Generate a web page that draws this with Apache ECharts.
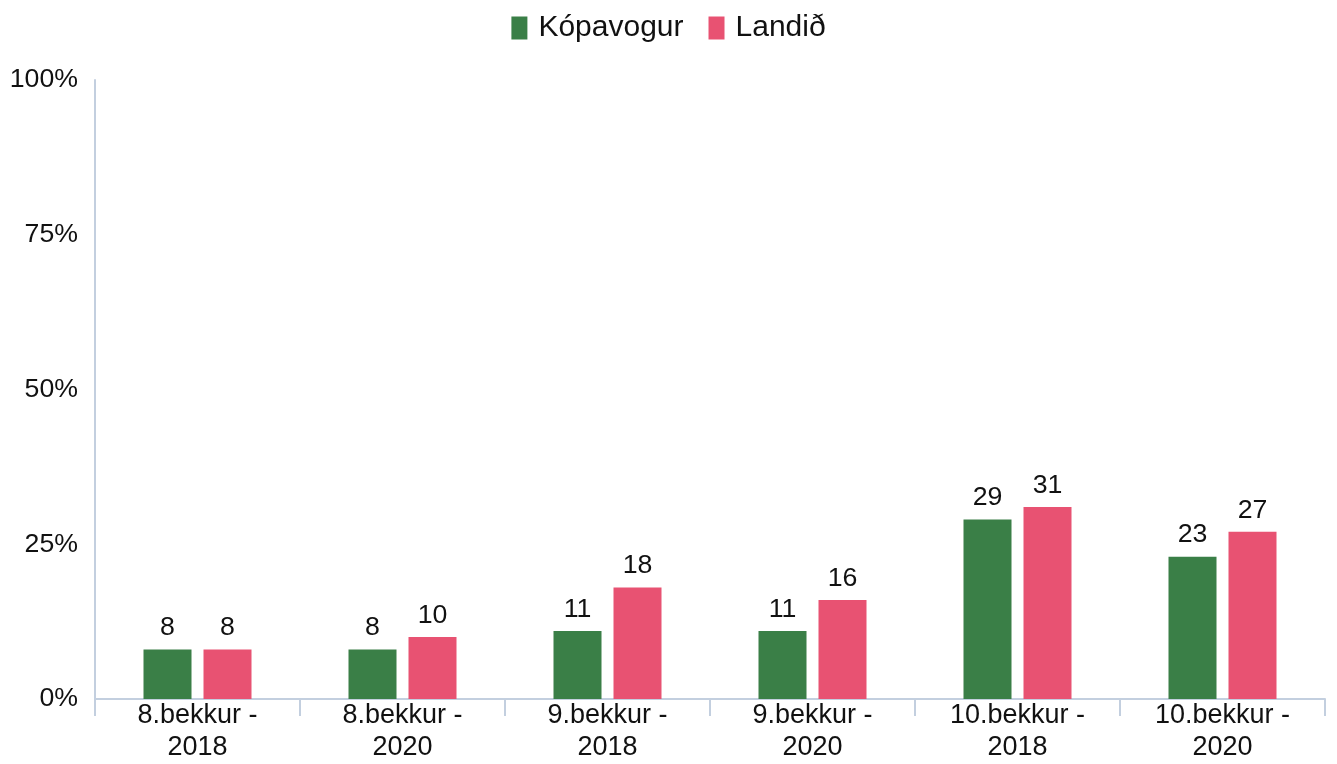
<!DOCTYPE html>
<html>
<head>
<meta charset="utf-8">
<script src="https://cdn.jsdelivr.net/npm/echarts@6/dist/echarts.min.js"></script>
<style>
  html, body { margin: 0; padding: 0; background: #fff; }
  #chart { width: 1337px; height: 764px; }
</style>
</head>
<body>
<div id="chart"></div>
<script>
const categories = [
  '8.bekkur -\n2018', '8.bekkur -\n2020',
  '9.bekkur -\n2018', '9.bekkur -\n2020',
  '10.bekkur -\n2018', '10.bekkur -\n2020'
]
const kopavogur = [8, 8, 11, 11, 29, 23]
const landid = [8, 10, 18, 16, 31, 27]

const chart = echarts.init(document.getElementById('chart'))
const font = 'Liberation Sans, Arial, sans-serif'
const axisColor = '#c3cfdf'
const textColor = '#111'

chart.setOption({
  animation: false,
  textStyle: { fontFamily: font },
  legend: {
    top: 8,
    left: 'center',
    itemWidth: 16,
    itemHeight: 23,
    itemGap: 25,
    icon: 'rect',
    textStyle: { fontSize: 30, color: textColor, fontFamily: font, padding: [0, 0, 0, 6] }
  },
  grid: { left: 95, right: 12, top: 80, bottom: 64 },
  xAxis: {
    type: 'category',
    data: categories,
    axisLine: { lineStyle: { color: axisColor, width: 2 } },
    axisTick: { show: true, length: 17, lineStyle: { color: axisColor, width: 2 } },
    axisLabel: { fontSize: 27, color: textColor, lineHeight: 32, margin: 1, fontFamily: font }
  },
  yAxis: {
    type: 'value',
    min: 0,
    max: 100,
    interval: 25,
    axisLine: { show: true, lineStyle: { color: axisColor, width: 2 } },
    axisTick: { show: false },
    splitLine: { show: false },
    axisLabel: { formatter: '{value}%', fontSize: 26.7, color: textColor, margin: 17, fontFamily: font, padding: [4, 0, 0, 0] }
  },
  series: [
    {
      name: 'Kópavogur',
      type: 'bar',
      data: kopavogur,
      barWidth: 48,
      barGap: '25%',
      itemStyle: { color: '#3a7f47' },
      label: { show: true, position: 'top', distance: 8, fontSize: 26.7, color: textColor, fontFamily: font }
    },
    {
      name: 'Landið',
      type: 'bar',
      data: landid,
      barWidth: 48,
      barGap: '25%',
      itemStyle: { color: '#e85272' },
      label: { show: true, position: 'top', distance: 8, fontSize: 26.7, color: textColor, fontFamily: font }
    }
  ]
})
</script>
</body>
</html>
